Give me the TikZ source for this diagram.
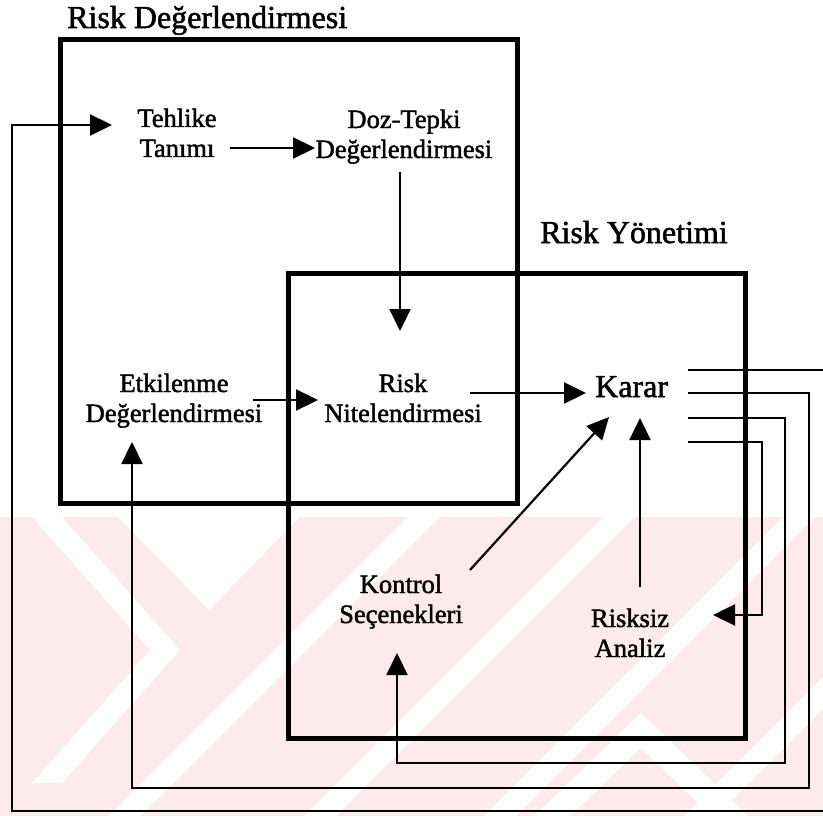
\documentclass[tikz,border=0pt]{standalone}
\usepackage{fontspec}
\setmainfont{Liberation Serif}
\newfontfamily\diagfont{Liberation Serif}[FakeBold=1.6]
\usetikzlibrary{arrows.meta}

\definecolor{wmpink}{RGB}{253,234,238}

\tikzset{
  boxline/.style={line width=5pt, line join=miter},
  conn/.style={line width=2.2pt, -{Triangle[length=22pt,width=21pt]}},
  lbl/.style={font=\diagfont\fontsize{26.5}{30}\selectfont, align=center, inner sep=0pt, anchor=base},
  bigl/.style={font=\diagfont\fontsize{32}{36}\selectfont, inner sep=0pt, anchor=base west},
}

\begin{document}
\begin{tikzpicture}[x=1pt,y=-1pt]
  \useasboundingbox (0,0) rectangle (823,816);
  \clip (0,0) rectangle (823,816);
  \fill[white] (0,0) rectangle (823,816);

  % light background pattern in the lower part
  \fill[wmpink] (0,517) rectangle (823,816);
  \begin{scope}
    \clip (0,517) rectangle (823,816);
    \fill[white] (32,517) -- (62,517) -- (180,650) -- (62,783) -- (32,783) -- (150,650) -- cycle;
    \fill[white] (118,517) -- (300,517) -- (209,610) -- cycle;
    \foreach \c in {925,1120,1300,1500} {
      \fill[white] (\c-517,517) -- (\c-517+32,517) -- (\c-816+32,816) -- (\c-816,816) -- cycle;
    }
    \fill[white] (641,713) -- (748,816) -- (712,816) -- (641,748) -- (570,816) -- (534,816) -- cycle;
  \end{scope}

  % the two overlapping frames
  \coordinate (f1a) at (60,40);   \coordinate (f1b) at (517,503);
  \coordinate (f2a) at (288,273); \coordinate (f2b) at (745,738);
  \draw[boxline] (f1a) rectangle (f1b);
  \draw[boxline] (f2a) rectangle (f2b);

  % frame titles
  \node[bigl] (t1) at (67,28) {Risk Değerlendirmesi};
  \node[bigl] (t2) at (540,243) {Risk Yönetimi};

  % steps (anchored on the baseline of their last line)
  \node[lbl] (tehlike) at (177,157) {Tehlike\\Tanımı};
  \node[lbl] (doz) at (404,158) {Doz-Tepki\\Değerlendirmesi};
  \node[lbl] (etki) at (174,422) {Etkilenme\\Değerlendirmesi};
  \node[lbl] (nitel) at (403,422) {Risk\\Nitelendirmesi};
  \node[bigl] (karar) at (595,397) {Karar};
  \node[lbl] (kontrol) at (401,623) {Kontrol\\Seçenekleri};
  \node[lbl] (risksiz) at (630,657) {Risksiz\\Analiz};

  % connector end points
  \coordinate (tehOut) at (230,148);  \coordinate (dozIn) at (315,148);
  \coordinate (dozOut) at (400,172);  \coordinate (nitTop) at (400,331);
  \coordinate (etkOut) at (253,400);  \coordinate (nitIn) at (318,400);
  \coordinate (nitOut) at (470,393);  \coordinate (karIn) at (586,393);
  \coordinate (konOut) at (470,570);  \coordinate (karLow) at (609,417);
  \coordinate (risOut) at (640,587);  \coordinate (karBot) at (640,418);

  \coordinate (k1) at (688,370); \coordinate (k2) at (688,393);
  \coordinate (k3) at (688,418); \coordinate (k4) at (688,442);
  \coordinate (tehIn) at (112,125);
  \coordinate (etkIn) at (132,442);
  \coordinate (konIn) at (397,653);
  \coordinate (risIn) at (713,615);

  % forward flow
  \draw[conn] (tehOut) -- (dozIn);
  \draw[conn] (dozOut) -- (nitTop);
  \draw[conn] (etkOut) -- (nitIn);
  \draw[conn] (nitOut) -- (karIn);
  \draw[conn] (konOut) -- (karLow);
  \draw[conn] (risOut) -- (karBot);

  % feedback loops leaving the decision
  \draw[conn] (k1) -- (840,370) -- (840,811) -- (12,811) |- (tehIn);
  \draw[conn] (k2) -- (809,393) -- (809,788) -- (132,788) -- (etkIn);
  \draw[conn] (k3) -- (785,418) -- (785,763) -- (397,763) -- (konIn);
  \draw[conn] (k4) -- (762,442) -- (762,615) -- (risIn);
\end{tikzpicture}
\end{document}
